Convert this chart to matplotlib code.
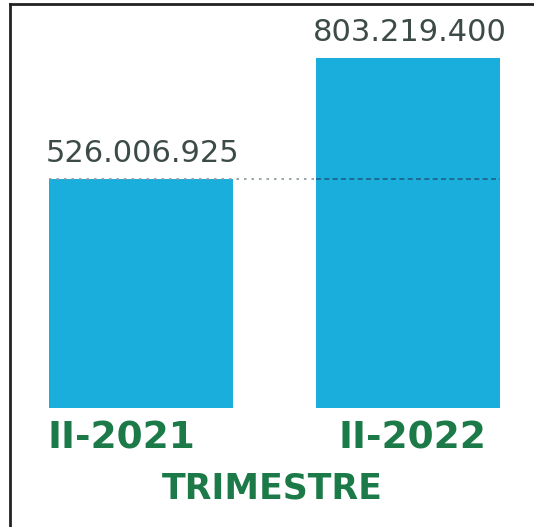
import matplotlib
matplotlib.use("Agg")
import matplotlib.pyplot as plt
from matplotlib.lines import Line2D
from matplotlib.transforms import ScaledTranslation

categories = ["II-2021", "II-2022"]
values = [526006925, 803219400]
value_labels = ["526.006.925", "803.219.400"]
axis_title = "TRIMESTRE"

BAR_COLOR = "#1aaedc"
GREEN = "#1b7a48"
VALUE_COLOR = "#3d4b48"

W, H = 534, 527
fig = plt.figure(figsize=(W / 100, H / 100), dpi=100)
ax = fig.add_axes([10 / W, (H - 408) / H, (W - 10) / W, 404 / H])

x = list(range(len(categories)))
bar_w = 184 / 267
ax.bar(x, values, width=bar_w, color=BAR_COLOR, zorder=2)

ax.set_xlim(-(141 - 10) / 267, 1 + (W - 408) / 267)
ax.set_ylim(0, values[1] * 404 / 350)

for xi, v, lab in zip(x, values, value_labels):
    ax.annotate(lab, (xi, v), xytext=(2, 11), textcoords="offset pixels",
                ha="center", va="bottom", fontsize=22, color=VALUE_COLOR,
                family="DejaVu Sans")

# reference line at the first value
ax.hlines(values[0], x[0] - bar_w / 2, x[1] - bar_w / 2, colors="#8a979c",
          linestyles=(0, (1.5, 3)), linewidth=1.2, zorder=3)
ax.hlines(values[0], x[1] - bar_w / 2, x[1] + bar_w / 2, colors="#1f5f86",
          linestyles=(0, (3, 2)), linewidth=1.2, zorder=3)

ax.set_xticks(x)
ax.set_xticklabels(categories, fontsize=27, fontweight="bold", color=GREEN)
ax.tick_params(axis="x", length=0, pad=9)
offsets = [-20, 4]
for lbl, dx in zip(ax.get_xticklabels(), offsets):
    lbl.set_transform(lbl.get_transform() + ScaledTranslation(dx / 100, 0, fig.dpi_scale_trans))
ax.set_yticks([])
ax.set_xlabel(axis_title, fontsize=25, fontweight="bold", color=GREEN, labelpad=11)
for s in ax.spines.values():
    s.set_visible(False)

# border (left and top edges of the scanned frame)
fig.add_artist(Line2D([10 / W, 10 / W], [0, 1 - 4 / H], transform=fig.transFigure,
                      color="#222222", linewidth=2))
fig.add_artist(Line2D([10 / W, 1], [1 - 4 / H, 1 - 4 / H], transform=fig.transFigure,
                      color="#222222", linewidth=2))

fig.savefig("out.png", dpi=100, facecolor="white")
